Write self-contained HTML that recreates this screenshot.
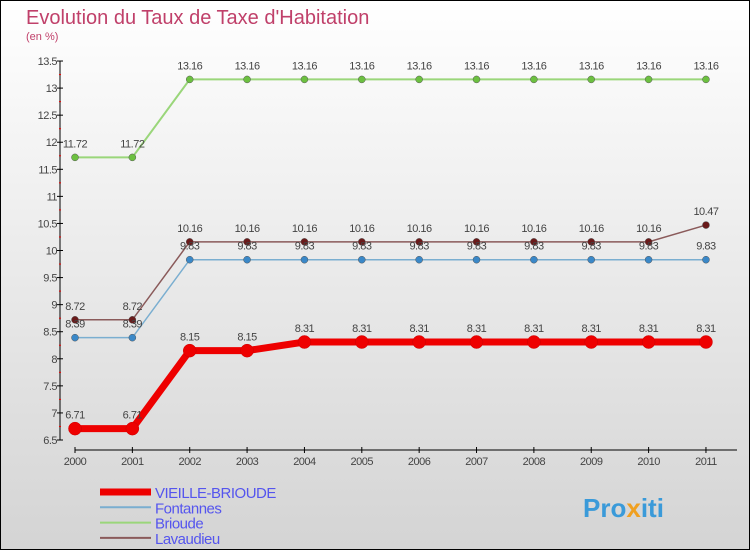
<!DOCTYPE html>
<html><head><meta charset="utf-8"><style>
html,body{margin:0;padding:0}
body{width:750px;height:550px;overflow:hidden;font-family:"Liberation Sans",sans-serif}
</style></head><body>
<svg id="c" width="750" height="550" xmlns="http://www.w3.org/2000/svg">
<defs><linearGradient id="bg" x1="0" y1="0" x2="0" y2="1"><stop offset="0" stop-color="#ffffff"/><stop offset="1" stop-color="#d4d4d4"/></linearGradient></defs>
<rect x="0.5" y="0.5" width="749" height="549" fill="url(#bg)" stroke="#000"/>
<text x="26" y="24" font-size="20" fill="#c0406a">Evolution du Taux de Taxe d'Habitation</text>
<text x="26" y="40" font-size="11" fill="#c0406a">(en %)</text>
<g id="axes"></g><g id="series"></g><g id="legend"></g>
<text x="583" y="517" font-size="26" font-weight="bold" fill="#3a9ad9">Pro<tspan fill="#f0a020">x</tspan><tspan fill="#3a9ad9">iti</tspan></text>
</svg>
<script>
const years=[2000,2001,2002,2003,2004,2005,2006,2007,2008,2009,2010,2011];
const yTicks=[6.5,7,7.5,8,8.5,9,9.5,10,10.5,11,11.5,12,12.5,13,13.5];
const vieille=[6.71,6.71,8.15,8.15,8.31,8.31,8.31,8.31,8.31,8.31,8.31,8.31];
const fontannes=[8.39,8.39,9.83,9.83,9.83,9.83,9.83,9.83,9.83,9.83,9.83,9.83];
const brioude=[11.72,11.72,13.16,13.16,13.16,13.16,13.16,13.16,13.16,13.16,13.16,13.16];
const lavaudieu=[8.72,8.72,10.16,10.16,10.16,10.16,10.16,10.16,10.16,10.16,10.16,10.47];
const names=["VIEILLE-BRIOUDE","Fontannes","Brioude","Lavaudieu"];
const NS="http://www.w3.org/2000/svg";
const X=i=>75+i*57.36;
const Y=v=>440-(v-6.5)*54.14;
function mk(t,a,p){const e=document.createElementNS(NS,t);for(const k in a)e.setAttribute(k,a[k]);p.appendChild(e);return e;}
const ax=document.getElementById('axes');
const yl=mk('line',{x1:60,y1:Y(13.5),x2:60,y2:440,stroke:'#000'},ax);


yTicks.forEach(v=>{
 mk('line',{x1:57,x2:63,y1:Y(v),y2:Y(v),stroke:'#000'},ax);
 mk('line',{x1:59,x2:61,y1:Y(v+0.25),y2:Y(v+0.25),stroke:v<13.5?'#e00':'none'},ax);
 const t=mk('text',{x:57,y:Y(v)+4,'text-anchor':'end','font-size':11,fill:'#444','letter-spacing':'-0.5'},ax);
 t.textContent=v;
 
 
});
const xl=mk('line',{x1:75,y1:450,x2:737,y2:450,stroke:'#000'},ax);


years.forEach((y,i)=>{
 mk('line',{x1:X(i),x2:X(i),y1:447,y2:453,stroke:'#000'},ax);
 const t=mk('text',{x:X(i),y:465,'text-anchor':'middle','font-size':11,fill:'#444','letter-spacing':'-0.5'},ax);
 t.textContent=y;
 
 
});
const sg=document.getElementById('series');
const defs=[[brioude,'#9ad67a','#6cc040',2,3.5],[lavaudieu,'#8a5a5a','#6a1a1a',1.5,3.5],[fontannes,'#7aaed0','#3a88c8',1.5,3.5],[vieille,'#ee0000','#ee0000',7,6.5]];
const keys=['brioude','lavaudieu','fontannes','vieille-brioude'];
defs.forEach((d,s)=>{
 const [vals,lc,pc,w,r]=d;
 const pl=mk('polyline',{points:vals.map((v,i)=>X(i)+','+Y(v)).join(' '),fill:'none',stroke:lc,'stroke-width':w},sg);
 
 
 vals.forEach((v,i)=>{
  const c=mk('circle',{cx:X(i),cy:Y(v),r:r,fill:pc,stroke:s==3?'#c00':'#555','stroke-width':0.5},sg);
  
  
  const t=mk('text',{x:X(i),y:Y(v)-10,'text-anchor':'middle','font-size':11,fill:'#444','letter-spacing':'-0.5'},sg);
  t.textContent=v;
  
  
 });
});
const lg=document.getElementById('legend');
const lc=[['#ee0000',7],['#7aaed0',2],['#9ad67a',2],['#8a5a5a',2]];
names.forEach((n,i)=>{
 const y=492+i*15.3;
 mk('line',{x1:100,x2:151,y1:y,y2:y,stroke:lc[i][0],'stroke-width':lc[i][1]},lg);
 const t=mk('text',{x:155,y:y+6,'font-size':15,fill:'#5555ee','letter-spacing':'-0.5'},lg);
 t.textContent=n;
 
 
});
</script>
</body></html>
